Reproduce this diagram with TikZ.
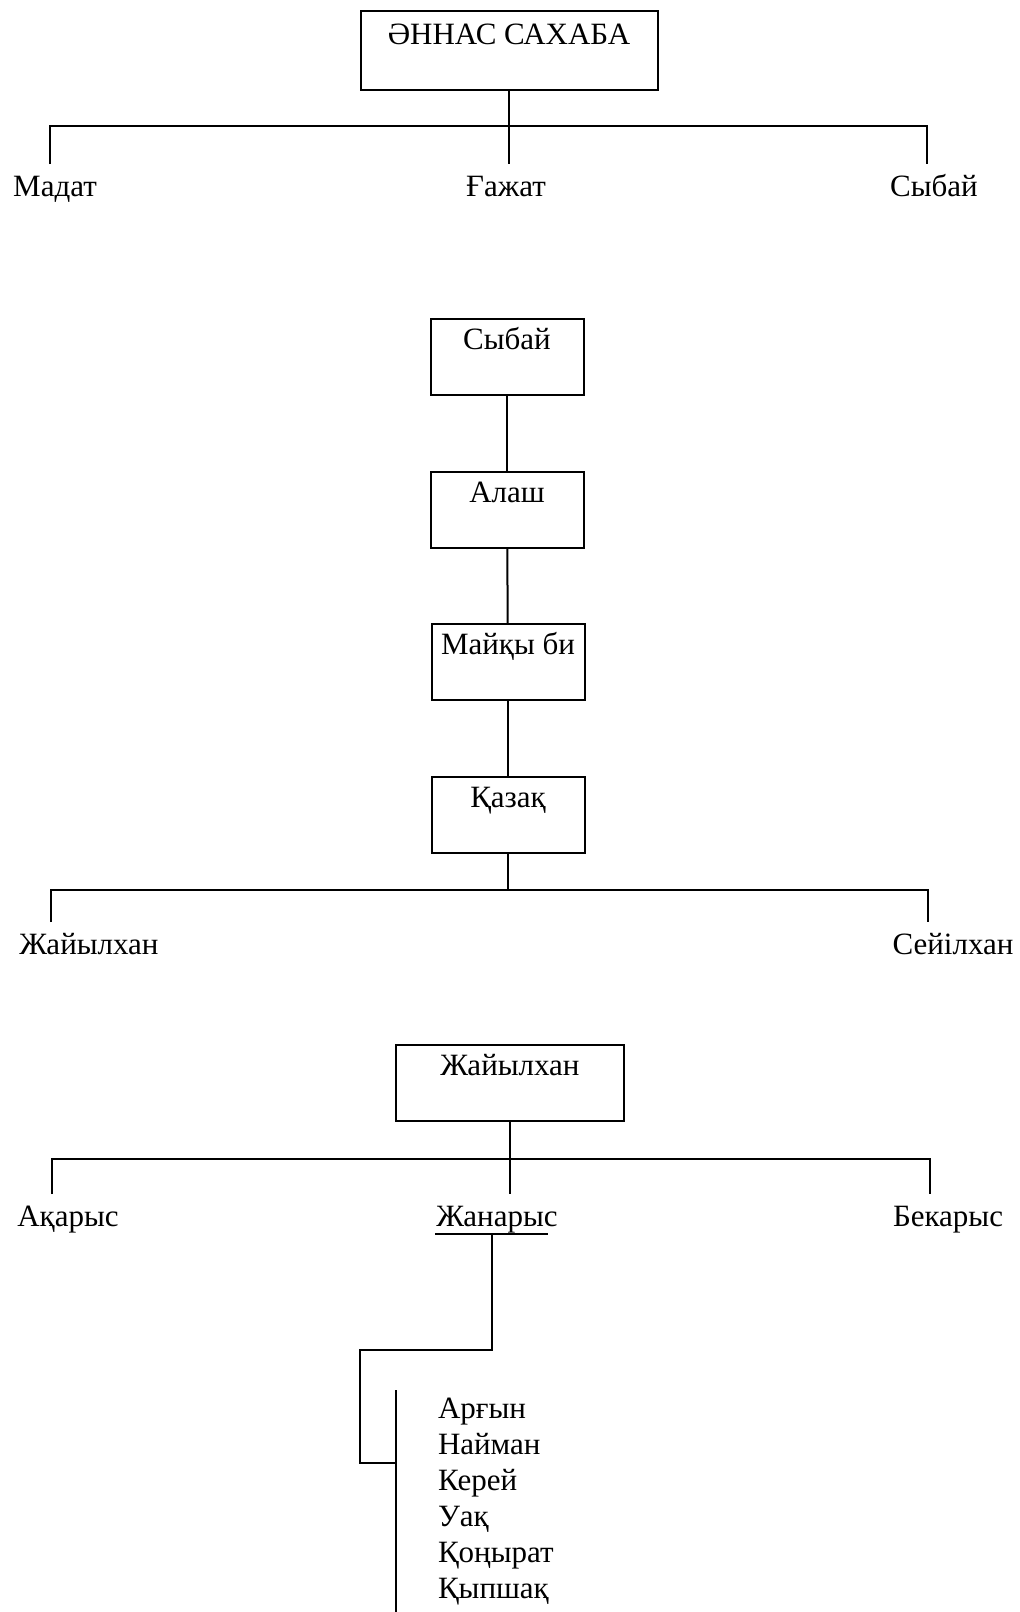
\documentclass[tikz,border=0pt]{standalone}
\usepackage{fontspec}
\setmainfont{Liberation Serif}

\begin{document}
\begin{tikzpicture}[x=1pt,y=-1pt,
    line width=2pt,
    every node/.style = {font=\fontsize{31}{36}\selectfont},
    box/.style = {
      draw,
      rectangle,
      anchor = north,
      inner sep = 0pt,
      text height = 30pt,
      text depth = 46pt
    },
    kin/.style = {
      anchor = base,
      inner xsep = 0pt,
      inner ysep = 10pt,
      text height = 21pt,
      text depth = 7pt
    }
  ]
  \useasboundingbox (0,0) rectangle (1020,1612);

  % first level
  \node[box,minimum width=297pt,text depth=46pt,text height=33pt] (sahaba) at (509,10) {ӘННАС САХАБА};
  \node[kin] (madat) at (55,196) {Мадат};
  \node[kin] (ghazhat) at (506,196) {Ғажат};
  \node[kin] (sybai) at (934,196) {Сыбай};
  \coordinate (barL1) at (50,126);
  \coordinate (barR1) at (927,126);

  \draw (barL1 |- madat.north) -- (barL1) -- (barR1) -- (barR1 |- sybai.north);
  \draw (sahaba.south) -- (sahaba.south |- ghazhat.north);

  % chain
  \node[box,minimum width=153pt] (sybaibox) at (507,318) {Сыбай};
  \node[box,minimum width=153pt] (alash) at (507,471) {Алаш};
  \node[box,minimum width=153pt] (maiqy) at (508,623) {Майқы би};
  \node[box,minimum width=153pt] (qazaq) at (508,776) {Қазақ};

  \draw (sybaibox) -- (alash);
  \draw (alash) -- (maiqy);
  \draw (maiqy) -- (qazaq);

  \node[kin] (zhaiyl) at (89,954) {Жайылхан};
  \node[kin] (seiil) at (953,954) {Сейілхан};
  \coordinate (barL2) at (51,890);
  \coordinate (barR2) at (928,890);

  \draw (barL2 |- zhaiyl.north) -- (barL2) -- (barR2) -- (barR2 |- seiil.north);
  \draw (qazaq.south) -- (qazaq.south |- barL2);

  % third level
  \node[box,minimum width=228pt] (zhaiylbox) at (510,1044) {Жайылхан};
  \node[kin] (aqarys) at (68,1226) {Ақарыс};
  \node[kin] (zhanarys) at (497,1226) {Жанарыс};
  \node[kin] (bekarys) at (948,1226) {Бекарыс};
  \coordinate (barL3) at (52,1159);
  \coordinate (barR3) at (930,1159);

  \draw (barL3 |- aqarys.north) -- (barL3) -- (barR3) -- (barR3 |- bekarys.north);
  \draw (zhaiylbox.south) -- (zhaiylbox.south |- zhanarys.north);
  \draw ([yshift=-8pt]zhanarys.base west) -- ++(113,0);

  % tribes
  \node[anchor=base west,align=left,inner sep=0pt] (tribes) at (437,1598)
    {Арғын\\Найман\\Керей\\Уақ\\Қоңырат\\Қыпшақ};
  \coordinate (drop) at (492,1234);
  \coordinate (turn) at (360,1350);
  \coordinate (join) at (396,1463);
  \coordinate (listtop) at (396,1390);
  \coordinate (listbot) at (396,1612);

  \draw (drop) |- (turn) |- (join);
  \draw (listtop) -- (listbot);
\end{tikzpicture}
\end{document}
